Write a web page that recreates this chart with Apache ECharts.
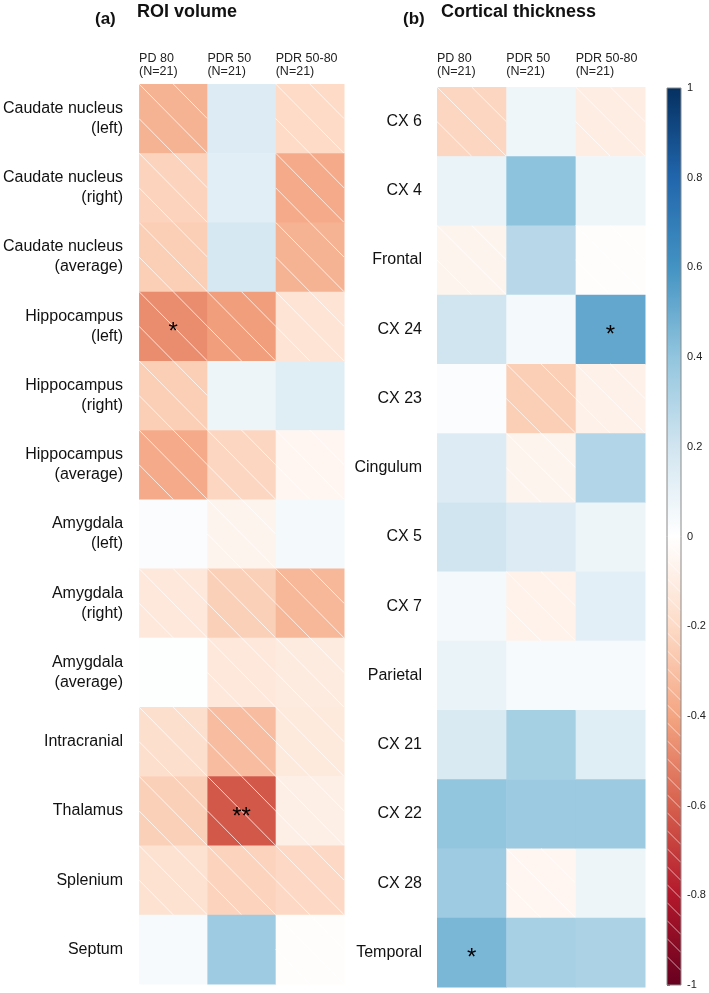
<!DOCTYPE html>
<html>
<head>
<meta charset="utf-8">
<script src="https://cdn.jsdelivr.net/npm/echarts@6/dist/echarts.min.js"></script>
<style>html,body{margin:0;padding:0;background:#fff}#c{width:709px;height:993px}</style>
</head>
<body>
<div id="c"></div>
<script>
// ---------- data ----------
const groups = ['PD 80\n(N=21)', 'PDR 50\n(N=21)', 'PDR 50-80\n(N=21)'];

const roiRows = ['Caudate nucleus\n(left)', 'Caudate nucleus\n(right)', 'Caudate nucleus\n(average)',
  'Hippocampus\n(left)', 'Hippocampus\n(right)', 'Hippocampus\n(average)',
  'Amygdala\n(left)', 'Amygdala\n(right)', 'Amygdala\n(average)',
  'Intracranial', 'Thalamus', 'Splenium', 'Septum'];
const roiPD80    = [-0.35, -0.23, -0.25, -0.47, -0.25, -0.38,  0.02, -0.13,  0.01, -0.18, -0.24, -0.16,  0.04];
const roiPDR50   = [ 0.15,  0.13,  0.18, -0.42,  0.08, -0.22, -0.06, -0.24, -0.13, -0.31, -0.62, -0.23,  0.36];
const roiPDR5080 = [-0.20, -0.38, -0.35, -0.15,  0.14, -0.05,  0.05, -0.33, -0.11, -0.12, -0.09, -0.21, -0.01];
const roiSigPD80    = ['', '', '', '*', '', '', '', '', '', '', '', '', ''];
const roiSigPDR50   = ['', '', '', '', '', '', '', '', '', '', '**', '', ''];
const roiSigPDR5080 = ['', '', '', '', '', '', '', '', '', '', '', '', ''];

const thickRows = ['CX 6', 'CX 4', 'Frontal', 'CX 24', 'CX 23', 'Cingulum', 'CX 5', 'CX 7',
  'Parietal', 'CX 21', 'CX 22', 'CX 28', 'Temporal'];
const thickPD80    = [-0.22, 0.09, -0.06, 0.20,  0.02,  0.15, 0.20,  0.05, 0.09, 0.16, 0.40,  0.36, 0.46];
const thickPDR50   = [ 0.07, 0.41,  0.28, 0.05, -0.25, -0.06, 0.15, -0.07, 0.04, 0.34, 0.37, -0.05, 0.33];
const thickPDR5080 = [-0.10, 0.07, -0.01, 0.52, -0.08,  0.30, 0.08,  0.12, 0.04, 0.14, 0.37,  0.08, 0.32];
const thickSigPD80    = ['', '', '', '', '', '', '', '', '', '', '', '', '*'];
const thickSigPDR50   = ['', '', '', '', '', '', '', '', '', '', '', '', ''];
const thickSigPDR5080 = ['', '', '', '*', '', '', '', '', '', '', '', '', ''];

// corrplot RdBu palette, from -1 to 1
const palette = ['#67001F', '#B2182B', '#D6604D', '#F4A582', '#FDDBC7', '#FFFFFF',
  '#D1E5F0', '#92C5DE', '#4393C3', '#2166AC', '#053061'];

// ---------- helpers ----------
function hex2rgb(h) { return [parseInt(h.slice(1,3),16), parseInt(h.slice(3,5),16), parseInt(h.slice(5,7),16)]; }
function colorOf(v) {
  const t = Math.max(0, Math.min(1, (v + 1) / 2)) * (palette.length - 1);
  const i = Math.min(palette.length - 2, Math.floor(t));
  const f = t - i;
  const a = hex2rgb(palette[i]), b = hex2rgb(palette[i + 1]);
  const c = a.map((x, k) => Math.round(x + (b[k] - x) * f));
  return 'rgb(' + c.join(',') + ')';
}
function buildData(cols) {
  const out = [];
  cols.forEach((arr, ci) => arr.forEach((v, ri) => out.push([ci, ri, v])));
  return out;
}
const roiData = buildData([roiPD80, roiPDR50, roiPDR5080]);
const roiSig = [roiSigPD80, roiSigPDR50, roiSigPDR5080];
const thickData = buildData([thickPD80, thickPDR50, thickPDR5080]);
const thickSig = [thickSigPD80, thickSigPDR50, thickSigPDR5080];

function makeRender(sigCols) {
  return function (params, api) {
    const col = api.value(0), row = api.value(1), v = api.value(2);
    const a = api.coord([col, row]);
    const b = api.coord([col + 1, row]);
    const h = api.size([0, 1])[1];
    const x0 = a[0], w = b[0] - a[0], y0 = a[1] - h / 2;
    const children = [{
      type: 'rect', shape: { x: x0, y: y0, width: w + 0.5, height: h + 0.5 },
      style: { fill: colorOf(v) }
    }];
    if (v < 0) {
      const ls = { stroke: 'rgba(255,255,255,0.75)', lineWidth: 1 };
      children.push({ type: 'line', shape: { x1: x0, y1: y0, x2: x0 + w, y2: y0 + h }, style: ls });
      children.push({ type: 'line', shape: { x1: x0 + w / 2, y1: y0, x2: x0 + w, y2: y0 + h / 2 }, style: ls });
      children.push({ type: 'line', shape: { x1: x0, y1: y0 + h / 2, x2: x0 + w / 2, y2: y0 + h }, style: ls });
    }
    const s = sigCols[col][row];
    if (s) {
      children.push({
        type: 'text',
        style: { text: s, x: x0 + w / 2, y: y0 + h / 2 + 6, align: 'center', verticalAlign: 'middle',
          fontSize: 24, fontFamily: 'Liberation Sans', fill: '#000' }
      });
    }
    return { type: 'group', children: children };
  };
}

function renderColorbar(params, api) {
  const top = api.coord([0, 1]);
  const bot = api.coord([1, -1]);
  const mid = api.coord([0, 0]);
  const x0 = top[0], w = bot[0] - top[0], y0 = top[1], h = bot[1] - top[1];
  const stops = palette.map((c, i) => ({ offset: 1 - i / (palette.length - 1), color: c }));
  const children = [{
    type: 'rect', shape: { x: x0, y: y0, width: w, height: h },
    style: { fill: new echarts.graphic.LinearGradient(0, 0, 0, 1, stops.reverse()) }
  }];
  for (let y = mid[1] + 6; y + w <= bot[1]; y += 18) {
    children.push({ type: 'line', shape: { x1: x0, y1: y, x2: x0 + w, y2: y + w },
      style: { stroke: 'rgba(255,255,255,0.6)', lineWidth: 1 } });
  }
  children.push({ type: 'rect', shape: { x: x0, y: y0, width: w, height: h },
    style: { fill: 'none', stroke: '#8a8a8a', lineWidth: 1 } });
  return { type: 'group', children: children };
}

// ---------- chart ----------
const FONT = 'Liberation Sans';
const chart = echarts.init(document.getElementById('c'), null, { renderer: 'canvas' });

function headerAxis(gridIndex, margin) {
  return {
    type: 'value', gridIndex: gridIndex, position: 'top', min: 0, max: 3, interval: 1,
    axisLine: { show: false }, axisTick: { show: false }, splitLine: { show: false },
    axisLabel: {
      show: true, align: 'left', margin: margin, fontFamily: FONT, fontSize: 12.5, lineHeight: 13,
      color: '#222', formatter: (v) => groups[v] || ''
    }
  };
}
function rowAxis(gridIndex, rows, margin) {
  return {
    type: 'category', gridIndex: gridIndex, data: rows, inverse: true,
    axisLine: { show: false }, axisTick: { show: false }, splitLine: { show: false },
    axisLabel: { margin: margin, fontFamily: FONT, fontSize: 16, lineHeight: 20, color: '#111', align: 'right' }
  };
}

const titleStyle = (size) => ({ fontFamily: FONT, fontSize: size, fontWeight: 'bold', color: '#111' });
chart.setOption({
  animation: false,
  backgroundColor: '#fff',
  title: [
    { text: '(a)', left: 95, top: 11, padding: 0, textStyle: titleStyle(17) },
    { text: 'ROI volume', left: 137, top: 3, padding: 0, textStyle: titleStyle(18) },
    { text: '(b)', left: 403, top: 11, padding: 0, textStyle: titleStyle(17) },
    { text: 'Cortical thickness', left: 441, top: 3, padding: 0, textStyle: titleStyle(18) }
  ],
  grid: [
    { left: 137, top: 84, width: 207, height: 900 },
    { left: 437, top: 87, width: 208, height: 900 },
    { left: 667, top: 88, width: 14, height: 897 }
  ],
  xAxis: [
    headerAxis(0, 6),
    headerAxis(1, 9),
    { type: 'value', gridIndex: 2, min: 0, max: 1, show: false }
  ],
  yAxis: [
    rowAxis(0, roiRows, 16),
    rowAxis(1, thickRows, 15),
    {
      type: 'value', gridIndex: 2, position: 'right', min: -1, max: 1, interval: 0.2,
      axisLine: { show: false }, splitLine: { show: false },
      axisTick: { show: true, length: 3, lineStyle: { color: '#666' } },
      axisLabel: { margin: 6, fontFamily: FONT, fontSize: 11, color: '#222' }
    }
  ],
  series: [
    { type: 'custom', xAxisIndex: 0, yAxisIndex: 0, data: roiData, renderItem: makeRender(roiSig) },
    { type: 'custom', xAxisIndex: 1, yAxisIndex: 1, data: thickData, renderItem: makeRender(thickSig) },
    { type: 'custom', xAxisIndex: 2, yAxisIndex: 2, data: [[0.5, 0]], renderItem: renderColorbar }
  ]
});
</script>
</body>
</html>
